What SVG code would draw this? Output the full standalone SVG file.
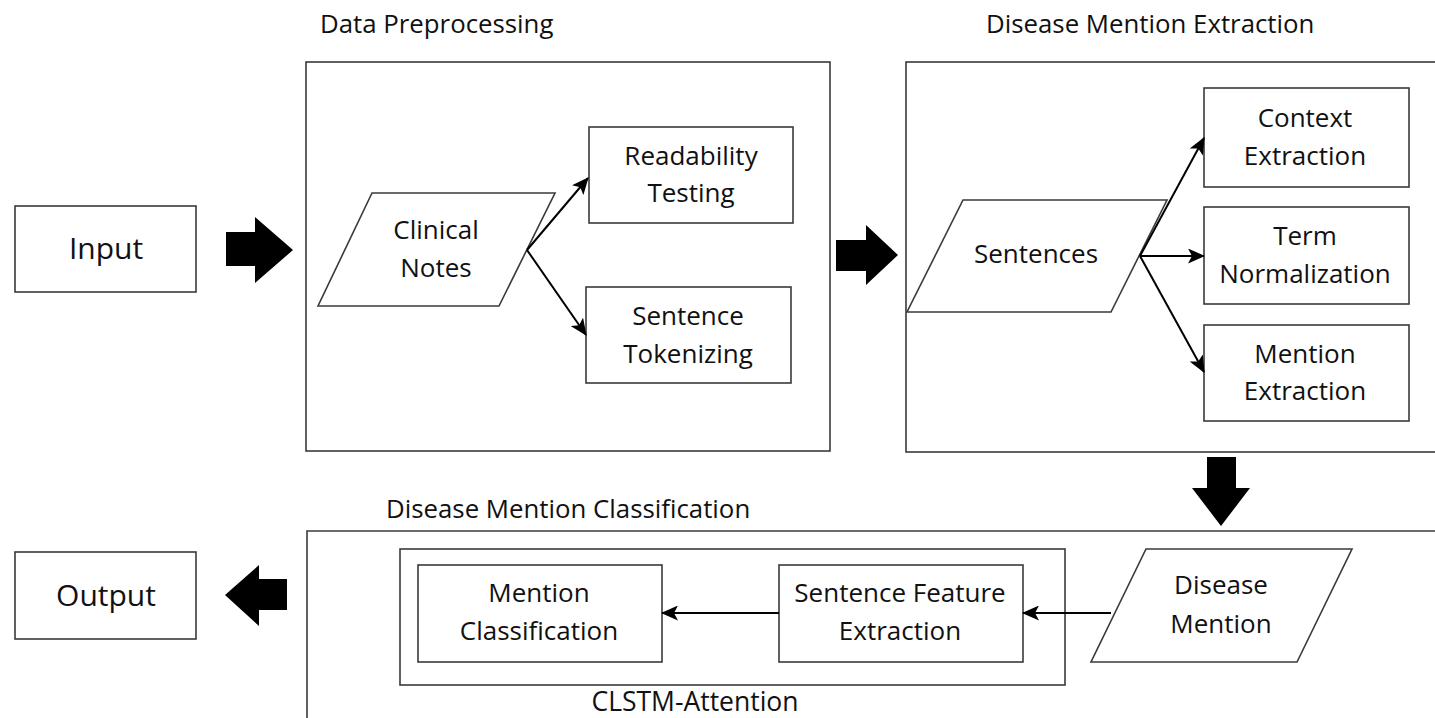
<svg xmlns="http://www.w3.org/2000/svg" width="1435" height="718" viewBox="0 0 1435 718">
  <style>
    .box { fill: #ffffff; stroke: #3a3a3a; stroke-width: 1.6; }
    .frame { fill: none; stroke: #3a3a3a; stroke-width: 1.6; }
    .lbl { font-family: "Open Sans", "Noto Sans", sans-serif; font-size: 26px; fill: #111111; text-anchor: middle; }
    .big { font-size: 30px; }
    .ttl { font-family: "Open Sans", "Noto Sans", sans-serif; font-size: 25.8px; fill: #111111; }
    .link { fill: none; stroke: #000000; stroke-width: 2; }
    .block { fill: #000000; }
  </style>
  <defs>
    <marker id="head" markerUnits="userSpaceOnUse" markerWidth="17" markerHeight="15" refX="16" refY="7.5" orient="auto">
      <path d="M0,0 L17,7.5 L0,15 L4,7.5 Z" fill="#000000"/>
    </marker>
  </defs>
  <rect width="1435" height="718" fill="#ffffff"/>

  <!-- stage frames and titles -->
  <g id="stage-preprocessing">
    <rect class="frame" x="306" y="62" width="524" height="389"/>
    <text class="ttl" x="320" y="33">Data Preprocessing</text>
  </g>
  <g id="stage-extraction">
    <rect class="frame" x="906" y="62" width="540" height="390"/>
    <text class="ttl" x="986" y="33">Disease Mention Extraction</text>
  </g>
  <g id="stage-classification">
    <path class="frame" d="M1445,531 L307,531 L307,725"/>
    <text class="ttl" x="386" y="518">Disease Mention Classification</text>
  </g>
  <g id="clstm-attention">
    <rect class="frame" x="400" y="549" width="665" height="136"/>
    <text class="lbl" x="695" y="711" style="font-size:26.5px">CLSTM-Attention</text>
  </g>

  <!-- nodes -->
  <g id="input">
    <rect class="box" x="15" y="206" width="181" height="86"/>
    <text class="lbl big" x="106" y="259">Input</text>
  </g>
  <g id="output">
    <rect class="box" x="15" y="552" width="181" height="87"/>
    <text class="lbl big" x="106" y="606">Output</text>
  </g>
  <g id="clinical-notes">
    <polygon class="box" points="372,193 555,193 499,306 318,306"/>
    <text class="lbl" x="436" y="239">Clinical</text>
    <text class="lbl" x="436" y="277">Notes</text>
  </g>
  <g id="readability-testing">
    <rect class="box" x="589" y="127" width="204" height="96"/>
    <text class="lbl" x="691" y="165">Readability</text>
    <text class="lbl" x="691" y="202">Testing</text>
  </g>
  <g id="sentence-tokenizing">
    <rect class="box" x="586" y="287" width="205" height="96"/>
    <text class="lbl" x="688" y="325">Sentence</text>
    <text class="lbl" x="688" y="363">Tokenizing</text>
  </g>
  <g id="sentences">
    <polygon class="box" points="963,200 1167,200 1111,312 907,312"/>
    <text class="lbl" x="1036" y="263">Sentences</text>
  </g>
  <g id="context-extraction">
    <rect class="box" x="1204" y="88" width="205" height="99"/>
    <text class="lbl" x="1305" y="127">Context</text>
    <text class="lbl" x="1305" y="165">Extraction</text>
  </g>
  <g id="term-normalization">
    <rect class="box" x="1204" y="207" width="205" height="97"/>
    <text class="lbl" x="1305" y="245">Term</text>
    <text class="lbl" x="1305" y="283">Normalization</text>
  </g>
  <g id="mention-extraction">
    <rect class="box" x="1204" y="325" width="205" height="96"/>
    <text class="lbl" x="1305" y="363">Mention</text>
    <text class="lbl" x="1305" y="400">Extraction</text>
  </g>
  <g id="disease-mention">
    <polygon class="box" points="1146,549 1352,549 1297,662 1091,662"/>
    <text class="lbl" x="1221" y="594">Disease</text>
    <text class="lbl" x="1221" y="633">Mention</text>
  </g>
  <g id="sentence-feature-extraction">
    <rect class="box" x="779" y="565" width="244" height="97"/>
    <text class="lbl" x="900" y="602">Sentence Feature</text>
    <text class="lbl" x="900" y="640">Extraction</text>
  </g>
  <g id="mention-classification">
    <rect class="box" x="418" y="565" width="244" height="97"/>
    <text class="lbl" x="539" y="602">Mention</text>
    <text class="lbl" x="539" y="640">Classification</text>
  </g>

  <!-- connectors -->
  <g id="connectors">
    <line class="link" x1="527" y1="250" x2="588" y2="178" marker-end="url(#head)"/>
    <line class="link" x1="527" y1="250" x2="586" y2="335" marker-end="url(#head)"/>
    <line class="link" x1="1140" y1="256" x2="1204" y2="138" marker-end="url(#head)"/>
    <line class="link" x1="1140" y1="256" x2="1204" y2="256" marker-end="url(#head)"/>
    <line class="link" x1="1140" y1="256" x2="1204" y2="372" marker-end="url(#head)"/>
    <line class="link" x1="1111" y1="613" x2="1023" y2="613" marker-end="url(#head)"/>
    <line class="link" x1="779" y1="613" x2="662" y2="613" marker-end="url(#head)"/>
    <!-- block arrows between stages -->
    <polygon class="block" points="226,232 255,232 255,217 293,250 255,283 255,266 226,266"/>
    <polygon class="block" points="836,240 866,240 866,225 898,255 866,285 866,271 836,271"/>
    <polygon class="block" points="1207,457 1236,457 1236,488 1250,488 1221,526 1192,488 1207,488"/>
    <polygon class="block" points="287,579 259,579 259,565 225,595 259,626 259,610 287,610"/>
  </g>
</svg>
